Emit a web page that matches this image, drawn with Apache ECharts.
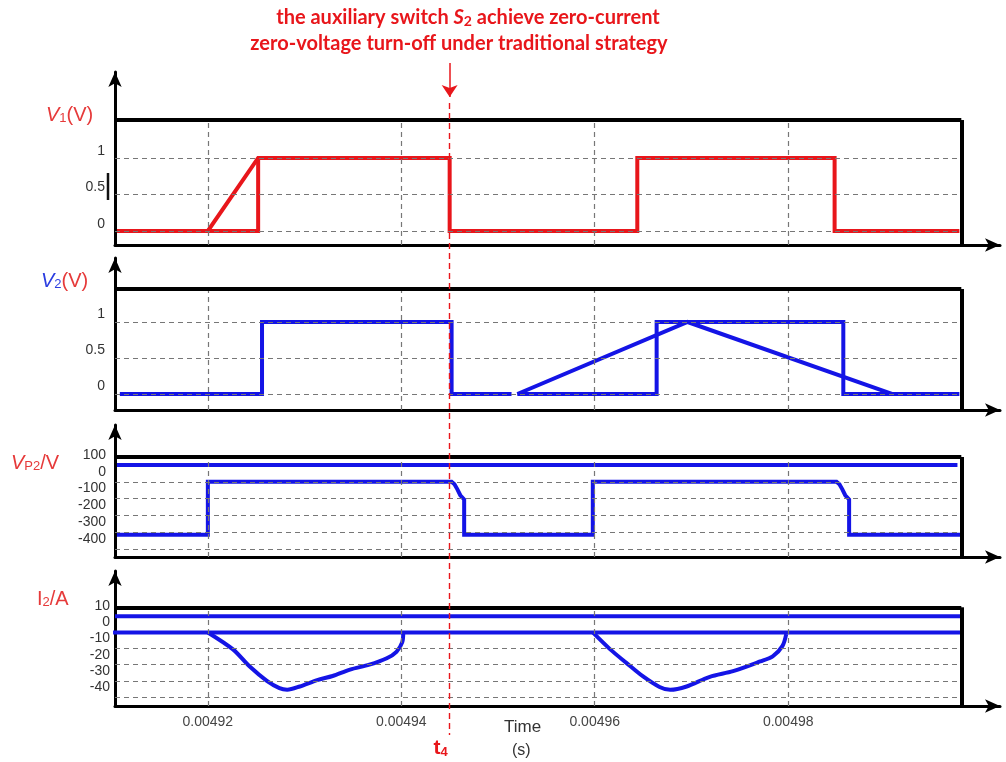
<!DOCTYPE html>
<html>
<head>
<meta charset="utf-8">
<script src="https://cdn.jsdelivr.net/npm/echarts@6/dist/echarts.min.js"></script>
<style>
  html, body { margin: 0; padding: 0; background: #fff; }
  #chart { width: 1006px; height: 762px; }
</style>
</head>
<body>
<div id="chart"></div>
<script>
// time axis (s)
const timeTicks = [0.00492, 0.00494, 0.00496, 0.00498];
const timeStart = 0.0049104, timeEnd = 0.0049979, axisEnd = 0.0050019;
const t4 = 0.004945;

// tick labels of the four panels
const v1Ticks = [0, 0.5, 1];
const v2Ticks = [0, 0.5, 1];
const vp2Ticks = [100, 0, -100, -200, -300, -400];
const i2Ticks = [10, 0, -10, -20, -30, -40];

// V1 (red)
const v1Time = [0.0049106, 0.00492, 0.0049252, 0.004945, 0.004945, 0.0049644, 0.0049644, 0.0049848, 0.0049848, 0.0049977];
const v1Val  = [0, 0, 1, 1, 0, 0, 1, 1, 0, 0];
const v1EdgeTime = [0.00492, 0.0049252, 0.0049252];
const v1EdgeVal  = [0, 0, 1];

// V2 (blue)
const v2aTime = [0.0049109, 0.0049256, 0.0049256, 0.0049452, 0.0049452, 0.0049514];
const v2aVal  = [0, 0, 1, 1, 0, 0];
const v2bTime = [0.004952, 0.0049664, 0.0049664, 0.0049857, 0.0049857, 0.0049977];
const v2bVal  = [0, 0, 1, 1, 0, 0];
const v2TriTime = [0.004952, 0.0049696, 0.0049908];
const v2TriVal  = [0, 1, 0];

// VP2
const vp2TopTime = [0.0049106, 0.0049975];
const vp2TopVal  = [100, 100];
const vp2Time = [0.0049106, 0.00492, 0.00492, 0.0049452, 0.0049455, 0.0049458, 0.0049461, 0.0049465, 0.0049465,
                 0.0049598, 0.0049598, 0.004985, 0.0049853, 0.0049856, 0.0049859, 0.0049863, 0.0049863, 0.0049979];
const vp2Val  = [-315, -315, 0, 0, -15, -45, -80, -105, -315,
                 -315, 0, 0, -15, -45, -80, -105, -315, -315];

// I2
const i2TopTime = [0.0049104, 0.0049979];
const i2TopVal  = [10, 10];
const i2BaseTime = [0.0049102, 0.0049979];
const i2BaseVal  = [0, 0];
const i2aTime = [0.00492, 0.0049226, 0.0049243, 0.0049261, 0.0049274, 0.0049282, 0.0049295, 0.0049313, 0.0049329,
                 0.0049347, 0.0049367, 0.0049385, 0.0049395, 0.0049401, 0.0049402];
const i2aVal  = [0, -10.5, -21, -30, -34.5, -35.5, -33.5, -29.5, -27, -23, -20, -16, -12, -6, 0];
const i2bTime = [0.0049598, 0.0049616, 0.0049633, 0.004965, 0.0049667, 0.0049678, 0.0049695, 0.0049719, 0.0049743,
                 0.0049771, 0.0049784, 0.0049794, 0.0049798];
const i2bVal  = [0, -10.5, -19, -27.3, -33.8, -35.6, -33.5, -27.5, -24, -18, -14.8, -8.5, -1];

const RED = '#e8161b', BLUE = '#1414e6', GRIDC = '#777', NAMEC = '#e63a3a';

const zip = (xs, ys) => xs.map((x, i) => [x, ys[i]]);

const panels = [
  { top: 72,  height: 173, min: -0.192, max: 2.178, border: 1.52,  grid: [0, 0.5, 1], labels: v1Ticks, margin: 10, pad: 0 },
  { top: 258, height: 152, min: -0.222, max: 1.889, border: 1.458, grid: [0, 0.5, 1], labels: v2Ticks, margin: 10, pad: 1 },
  { top: 425, height: 132, min: -447.6, max: 338,  border: 147.6, grid: [0, -100, -200, -300, -400], labels: vp2Ticks, margin: 9, pad: 3 },
  { top: 571, height: 135, min: -45.6,  max: 38.1, border: 15.6,  grid: [-10, -20, -30, -40], labels: i2Ticks, margin: 5, pad: 3 }
];

const grids = [], xAxes = [], yAxes = [], series = [];

panels.forEach((p, i) => {
  grids.push({ left: 115, right: 6, top: p.top, height: p.height });
  xAxes.push({
    type: 'value', gridIndex: i, min: timeStart, max: axisEnd,
    axisLine: { onZero: false, symbol: ['none', 'arrow'], symbolSize: [10, 15], lineStyle: { color: '#000', width: 3 } },
    axisTick: { show: false },
    splitLine: { show: false },
    axisLabel: {
      show: i === 3, customValues: timeTicks, margin: 9,
      formatter: v => v.toFixed(5),
      color: '#444', fontSize: 14, fontFamily: 'Liberation Sans'
    }
  });
  yAxes.push({
    type: 'value', gridIndex: i, min: p.min, max: p.max,
    axisLine: { onZero: false, symbol: ['none', 'arrow'], symbolSize: [10, 15], lineStyle: { color: '#000', width: 3 } },
    axisTick: { show: false },
    splitLine: { show: false },
    axisLabel: {
      customValues: p.labels, margin: p.margin, verticalAlign: 'bottom', padding: [0, 0, p.pad, 0],
      color: '#333', fontSize: 14, fontFamily: 'Liberation Sans'
    }
  });

  // frame: top border, right border, dashed grid
  const lines = [];
  const solid = { type: 'solid', color: '#000', width: 4 };
  const dash = { type: [5, 4], color: GRIDC, width: 1.2 };
  p.grid.forEach(v => lines.push([{ coord: [timeStart, v], lineStyle: dash }, { coord: [timeEnd, v] }]));
  timeTicks.forEach(t => lines.push([{ coord: [t, p.min], lineStyle: dash }, { coord: [t, p.border] }]));
  lines.push([{ coord: [timeStart, p.border], lineStyle: solid }, { coord: [timeEnd, p.border] }]);
  lines.push([{ coord: [timeEnd, p.min], lineStyle: solid }, { coord: [timeEnd, p.border] }]);
  series.push({
    type: 'line', xAxisIndex: i, yAxisIndex: i, data: [], z: 1, silent: true,
    markLine: { silent: true, animation: false, symbol: 'none', label: { show: false }, data: lines }
  });
});

function trace(i, xs, ys, color, smooth) {
  series.push({
    type: 'line', xAxisIndex: i, yAxisIndex: i, data: zip(xs, ys),
    showSymbol: false, symbol: 'none', smooth: smooth || false, z: 3, silent: true,
    lineStyle: { color: color, width: 4, join: 'miter' }
  });
}

trace(0, v1Time, v1Val, RED);
trace(0, v1EdgeTime, v1EdgeVal, RED);
trace(1, v2aTime, v2aVal, BLUE);
trace(1, v2bTime, v2bVal, BLUE);
trace(1, v2TriTime, v2TriVal, BLUE);
trace(2, vp2TopTime, vp2TopVal, BLUE);
trace(2, vp2Time, vp2Val, BLUE);
trace(3, i2TopTime, i2TopVal, BLUE);
trace(3, i2BaseTime, i2BaseVal, BLUE);
trace(3, i2aTime, i2aVal, BLUE, 0.3);
trace(3, i2bTime, i2bVal, BLUE, 0.3);

// overlay for the t4 marker across all panels
grids.push({ left: 115, right: 6, top: 63, height: 672 });
xAxes.push({ type: 'value', gridIndex: 4, min: timeStart, max: axisEnd, show: false });
yAxes.push({ type: 'value', gridIndex: 4, min: 0, max: 1, show: false });
series.push({
  type: 'line', xAxisIndex: 4, yAxisIndex: 4, data: [], z: 10, silent: true,
  markLine: {
    silent: true, animation: false, symbol: 'none', label: { show: false },
    data: [
      [{ coord: [t4, 1], lineStyle: { type: 'solid', color: RED, width: 1.5 } },
       { coord: [t4, 0.9494], symbol: 'arrow', symbolSize: 12 }],
      [{ coord: [t4, 0.9405], lineStyle: { type: [6, 4], color: RED, width: 1.4 },
         label: {
           show: true, position: 'end', distance: 2, formatter: '{t|t}{s|4}', padding: [0, 18, 0, 0],
           rich: {
             t: { color: RED, fontSize: 21, fontWeight: 'bold', fontFamily: 'Liberation Sans' },
             s: { color: RED, fontSize: 13, fontWeight: 'bold', fontFamily: 'Liberation Sans', padding: [9, 0, 0, 0] }
           }
         } },
       { coord: [t4, 0] }]
    ]
  }
});

const nameRich = (c1, c2) => ({
  i: { fill: c1, fontSize: 20, fontStyle: 'italic', fontFamily: 'Liberation Sans' },
  u: { fill: c1, fontSize: 20, fontFamily: 'Liberation Sans' },
  s: { fill: c1, fontSize: 13, fontFamily: 'Liberation Sans', padding: [7, 0, 0, 0] },
  n: { fill: c2, fontSize: 20, fontFamily: 'Liberation Sans' }
});
const titleRich = {
  a: { fill: RED, fontSize: 20, fontWeight: 'bold', fontFamily: 'Lato' },
  i: { fill: RED, fontSize: 20, fontWeight: 'bold', fontStyle: 'italic', fontFamily: 'Lato' },
  s: { fill: RED, fontSize: 14, fontWeight: 'bold', fontFamily: 'Lato', padding: [7, 0, 0, 0] }
};

const graphic = [
  { type: 'text', x: 468, y: 7, style: { text: '{a|the auxiliary switch }{i|S}{s|2}{a| achieve zero-current}', rich: titleRich, align: 'center' } },
  { type: 'text', x: 459, y: 34, style: { text: '{a|zero-voltage turn-off under traditional strategy}', rich: titleRich, align: 'center' } },
  { type: 'text', left: 46, top: 105, style: { text: '{i|V}{s|1}{n|(V)}', rich: nameRich(NAMEC, NAMEC) } },
  { type: 'text', left: 41, top: 271, style: { text: '{i|V}{s|2}{n|(V)}', rich: nameRich('#2b3de0', NAMEC) } },
  { type: 'text', left: 11, top: 453, style: { text: '{i|V}{s|P2}{n|/V}', rich: nameRich(NAMEC, NAMEC) } },
  { type: 'text', left: 37, top: 589, style: { text: '{u|I}{s|2}{n|/A}', rich: nameRich(NAMEC, NAMEC) } },
  { type: 'text', left: 504, top: 719, style: { text: 'Time', fill: '#333', fontSize: 17, fontFamily: 'Liberation Sans' } },
  { type: 'text', left: 512, top: 743, style: { text: '(s)', fill: '#333', fontSize: 16, fontFamily: 'Liberation Sans' } },
  { type: 'line', shape: { x1: 108, y1: 173, x2: 108, y2: 200 }, style: { stroke: '#111', lineWidth: 2.5 } }
];

const chart = echarts.init(document.getElementById('chart'));
chart.setOption({
  animation: false,
  backgroundColor: '#fff',
  grid: grids,
  xAxis: xAxes,
  yAxis: yAxes,
  series: series,
  graphic: graphic
});
</script>
</body>
</html>
